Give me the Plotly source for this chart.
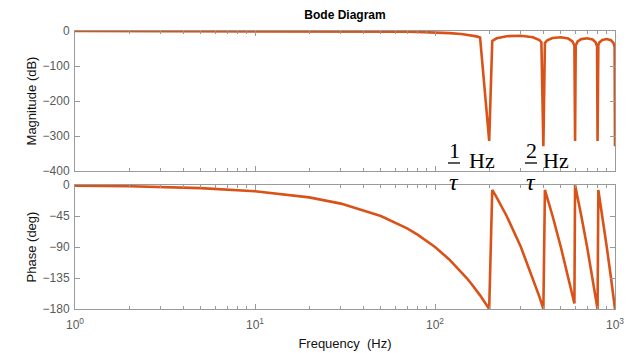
import plotly.graph_objects as go
from plotly.subplots import make_subplots

# ---- data ----
freq_hz = [1, 2, 5, 10, 20, 30, 50, 70, 80, 100, 120, 140, 150, 160, 170, 178,
           200, 208, 220, 250, 300, 350, 380, 390, 400, 408, 420, 450, 500, 550,
           580, 595, 600, 605, 620, 650, 700, 750, 780, 795, 800, 808, 820, 850,
           900, 950, 980, 995, 1000]
magnitude_db = [0.0, 0.0, -0.01, -0.04, -0.14, -0.32, -0.91, -1.83, -2.42, -3.92,
                -5.94, -8.69, -10.46, -12.62, -15.39, -18.3,
                -314, -28.3, -21.0, -14.9, -13.5, -17.8, -25.7, -31.9, -329,
                -34.2, -26.6, -20.0, -17.9, -21.7, -29.4, -41.5, -314, -41.7,
                -30.0, -23.2, -20.8, -24.4, -32.0, -44.0, -314, -40.1, -32.4,
                -25.5, -23.0, -26.5, -33.9, -46.0, -329]
phase_deg = [-0.9, -1.8, -4.5, -9, -18, -27, -45, -63, -72, -90, -108, -126, -135,
             -144, -153, -160.2, -180, -7.2, -18, -45, -90, -135, -162, -171, -180,
             -7.2, -18, -45, -90, -135, -162, -172, 0, -4.5, -18, -45, -90, -135,
             -162, -175.5, -180, -7.2, -18, -45, -90, -135, -162, -171, -180]

mag_ticks = [0, -100, -200, -300, -400]
phase_ticks = [0, -45, -90, -135, -180]
freq_ticks = [1, 10, 100, 1000]
freq_ticktext = ["10<sup>0</sup>", "10<sup>1</sup>", "10<sup>2</sup>", "10<sup>3</sup>"]
freq_minor = [2, 3, 4, 5, 6, 7, 8, 9, 20, 30, 40, 50, 60, 70, 80, 90,
              200, 300, 400, 500, 600, 700, 800, 900]

LINE = "#D95319"
AXC = "#9a9a9a"
TXT = "#5a5a5a"
FONT = "Liberation Sans, Arial, sans-serif"
SERIF = "Liberation Serif, Times New Roman, serif"

W, H = 631, 353
L, R, T, B = 75, 16, 31, 44
PW, PH = W - L - R, H - T - B

def px(x):
    return (x - L) / PW

def py(y):
    return (H - B - y) / PH

fig = make_subplots(rows=2, cols=1, shared_xaxes=True)
fig.add_trace(go.Scatter(x=freq_hz, y=magnitude_db, mode="lines",
                         line=dict(color=LINE, width=2.6), showlegend=False,
                         cliponaxis=False), row=1, col=1)
fig.add_trace(go.Scatter(x=freq_hz, y=phase_deg, mode="lines",
                         line=dict(color=LINE, width=2.6), showlegend=False,
                         cliponaxis=False), row=2, col=1)

common_x = dict(type="log", range=[0, 3], showline=True, linecolor=AXC, linewidth=1,
                mirror="ticks", ticks="inside", ticklen=5, tickcolor=AXC,
                showgrid=False, zeroline=False, tickvals=freq_ticks, automargin=False,
                minor=dict(ticks="inside", ticklen=3, tickcolor=AXC, showgrid=False,
                           tickvals=freq_minor))
fig.update_xaxes(**common_x)
fig.update_xaxes(showticklabels=False, row=1, col=1)
fig.update_xaxes(ticktext=freq_ticktext, tickfont=dict(family=FONT, size=12, color=TXT),
                 ticklabelstandoff=5,
                 title=dict(text="Frequency  (Hz)", font=dict(family=FONT, size=13, color="#111"),
                            standoff=7),
                 row=2, col=1)

common_y = dict(showline=True, linecolor=AXC, linewidth=1, mirror="ticks",
                ticks="inside", ticklen=5, tickcolor=AXC, showgrid=False, zeroline=False,
                automargin=False,
                tickfont=dict(family=FONT, size=12, color=TXT), ticklabelstandoff=2)
fig.update_yaxes(**common_y)
fig.update_yaxes(range=[-400, 0], tickvals=mag_ticks,
                 title=dict(text="Magnitude (dB)", font=dict(family=FONT, size=13, color="#111"),
                            standoff=3),
                 domain=[py(171), 1], row=1, col=1)
fig.update_yaxes(range=[-180, 0], tickvals=phase_ticks,
                 title=dict(text="Phase (deg)", font=dict(family=FONT, size=13, color="#111"),
                            standoff=3),
                 domain=[0, py(185)], row=2, col=1)

annos = []
for cx, num, hx in [(454, "1", 482), (531, "2", 556)]:
    annos.append(dict(x=px(cx), y=py(150), xref="paper", yref="paper", text=num,
                      showarrow=False, font=dict(family=SERIF, size=22, color="black"),
                      xanchor="center", yanchor="middle"))
    annos.append(dict(x=px(cx), y=py(182), xref="paper", yref="paper", text="<i>τ</i>",
                      showarrow=False, font=dict(family=SERIF, size=24, color="black"),
                      xanchor="center", yanchor="middle"))
    annos.append(dict(x=px(hx), y=py(160), xref="paper", yref="paper", text="Hz",
                      showarrow=False, font=dict(family=SERIF, size=22, color="black"),
                      xanchor="center", yanchor="middle"))

shapes = []
for cx in [454, 531]:
    shapes.append(dict(type="line", xref="paper", yref="paper",
                       x0=px(cx - 6), x1=px(cx + 6), y0=py(163), y1=py(163),
                       line=dict(color="black", width=1.3)))

fig.update_layout(
    width=W, height=H, margin=dict(l=L, r=R, t=T, b=B, autoexpand=False),
    paper_bgcolor="white", plot_bgcolor="white",
    title=dict(text="<b>Bode Diagram</b>", x=px(345), xref="paper", xanchor="center",
               y=1 - 15 / H, yref="container", yanchor="middle",
               font=dict(family=FONT, size=12, color="black")),
    annotations=annos, shapes=shapes, showlegend=False,
)

fig.write_html("out.html", config={"displayModeBar": False},
               post_script="document.body.style.margin='0';document.body.style.padding='0';")
